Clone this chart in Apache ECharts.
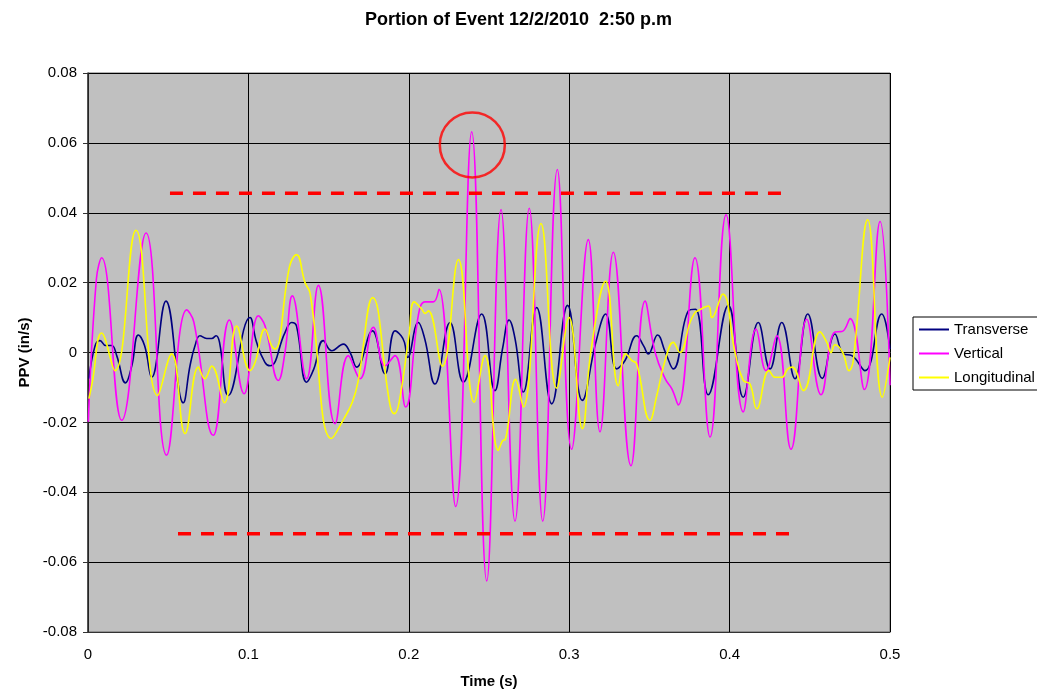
<!DOCTYPE html>
<html>
<head>
<meta charset="utf-8">
<script src="https://cdn.jsdelivr.net/npm/echarts@6/dist/echarts.min.js"></script>
<style>
html,body{margin:0;padding:0;background:#fff;overflow:hidden;}
#chart{width:1037px;height:694px;}
</style>
</head>
<body>
<div id="chart"></div>
<script>
// ---- data (time in s, PPV in in/s) ----
const titleText = "Portion of Event 12/2/2010  2:50 p.m";
const seriesNames = ["Transverse", "Vertical", "Longitudinal"];
const xTicks = [0, 0.1, 0.2, 0.3, 0.4, 0.5];
const yTicks = [-0.08, -0.06, -0.04, -0.02, 0, 0.02, 0.04, 0.06, 0.08];

const transverse = [[0.0006,-0.0075],[0.0044,0.0019],[0.0075,0.0034],[0.0110,0.0020],[0.0148,0.0020],[0.0179,-0.0009],[0.0234,-0.0087],[0.0273,-0.0038],[0.0314,0.0050],[0.0353,0.0019],[0.0397,-0.0071],[0.0486,0.0147],[0.0594,-0.0144],[0.0636,-0.0038],[0.0667,0.0019],[0.0698,0.0048],[0.0740,0.0040],[0.0771,0.0040],[0.0799,0.0048],[0.0820,0.0029],[0.0875,-0.0123],[0.1010,0.0100],[0.1051,0.0029],[0.1103,-0.0028],[0.1135,-0.0038],[0.1228,0.0057],[0.1270,0.0086],[0.1300,0.0076],[0.1363,-0.0085],[0.1408,-0.0047],[0.1467,0.0034],[0.1520,0.0005],[0.1592,0.0024],[0.1634,0.0000],[0.1675,-0.0042],[0.1773,0.0062],[0.1852,-0.0061],[0.1914,0.0062],[0.1952,0.0048],[0.1973,0.0029],[0.1993,-0.0014],[0.2059,0.0086],[0.2100,0.0038],[0.2163,-0.0090],[0.2257,0.0086],[0.2340,-0.0085],[0.2454,0.0110],[0.2537,-0.0109],[0.2586,0.0015],[0.2625,0.0093],[0.2663,0.0038],[0.2714,-0.0113],[0.2797,0.0129],[0.2891,-0.0147],[0.2990,0.0135],[0.3082,-0.0137],[0.3166,0.0029],[0.3227,0.0110],[0.3296,-0.0047],[0.3348,-0.0023],[0.3421,0.0048],[0.3464,0.0019],[0.3493,-0.0004],[0.3551,0.0050],[0.3600,0.0000],[0.3649,-0.0047],[0.3743,0.0119],[0.3787,0.0124],[0.3867,-0.0121],[0.3992,0.0135],[0.4085,-0.0128],[0.4179,0.0086],[0.4252,-0.0047],[0.4325,0.0086],[0.4408,-0.0075],[0.4487,0.0110],[0.4578,-0.0074],[0.4657,0.0053],[0.4710,-0.0004],[0.4762,-0.0009],[0.4844,-0.0052],[0.4948,0.0110],[0.5000,0.0010]];

const vertical = [[0.0002,-0.0198],[0.0052,0.0209],[0.0085,0.0271],[0.0210,-0.0194],[0.0362,0.0342],[0.0490,-0.0294],[0.0615,0.0122],[0.0660,0.0087],[0.0781,-0.0237],[0.0881,0.0093],[0.0973,-0.0118],[0.1062,0.0105],[0.1104,0.0076],[0.1187,-0.0080],[0.1228,0.0000],[0.1274,0.0162],[0.1363,-0.0075],[0.1436,0.0192],[0.1540,-0.0204],[0.1623,-0.0009],[0.1696,-0.0075],[0.1779,0.0072],[0.1852,-0.0038],[0.1914,-0.0009],[0.1980,-0.0156],[0.2059,0.0105],[0.2101,0.0145],[0.2153,0.0145],[0.2188,0.0181],[0.2292,-0.0441],[0.2392,0.0632],[0.2486,-0.0654],[0.2575,0.0409],[0.2662,-0.0483],[0.2751,0.0413],[0.2835,-0.0483],[0.2926,0.0524],[0.3015,-0.0277],[0.3119,0.0323],[0.3192,-0.0227],[0.3275,0.0287],[0.3385,-0.0324],[0.3473,0.0147],[0.3536,0.0000],[0.3598,-0.0075],[0.3640,-0.0104],[0.3680,-0.0150],[0.3784,0.0271],[0.3878,-0.0242],[0.3978,0.0394],[0.4085,-0.0170],[0.4165,0.0067],[0.4227,-0.0052],[0.4294,0.0048],[0.4383,-0.0277],[0.4481,0.0095],[0.4570,-0.0121],[0.4657,0.0059],[0.4700,0.0060],[0.4751,0.0097],[0.4840,-0.0106],[0.4938,0.0375],[0.5000,-0.0094]];

const longitudinal = [[0.0006,-0.0132],[0.0027,-0.0085],[0.0085,0.0056],[0.0168,-0.0052],[0.0299,0.0350],[0.0434,-0.0123],[0.0522,-0.0004],[0.0605,-0.0232],[0.0688,-0.0042],[0.0728,-0.0075],[0.0771,-0.0039],[0.0850,-0.0144],[0.0927,0.0076],[0.1010,-0.0052],[0.1042,-0.0028],[0.1103,0.0067],[0.1145,0.0019],[0.1166,0.0010],[0.1257,0.0247],[0.1300,0.0280],[0.1353,0.0200],[0.1384,0.0171],[0.1519,-0.0246],[0.1596,-0.0189],[0.1648,-0.0142],[0.1683,-0.0085],[0.1775,0.0157],[0.1883,-0.0151],[0.1910,-0.0175],[0.1940,-0.0142],[0.2001,0.0048],[0.2034,0.0145],[0.2081,0.0124],[0.2101,0.0112],[0.2122,0.0119],[0.2209,-0.0039],[0.2309,0.0266],[0.2408,-0.0142],[0.2475,-0.0009],[0.2558,-0.0280],[0.2589,-0.0251],[0.2600,-0.0250],[0.2666,-0.0077],[0.2714,-0.0156],[0.2824,0.0369],[0.2922,-0.0102],[0.2999,0.0100],[0.3082,-0.0218],[0.3137,0.0010],[0.3227,0.0204],[0.3306,-0.0095],[0.3352,-0.0004],[0.3391,-0.0023],[0.3421,-0.0033],[0.3504,-0.0194],[0.3546,-0.0123],[0.3598,-0.0023],[0.3649,0.0029],[0.3690,0.0000],[0.3753,0.0086],[0.3784,0.0114],[0.3800,0.0119],[0.3868,0.0133],[0.3889,0.0100],[0.3957,0.0167],[0.4034,0.0000],[0.4085,-0.0080],[0.4127,-0.0090],[0.4169,-0.0161],[0.4246,-0.0052],[0.4285,-0.0071],[0.4325,-0.0071],[0.4363,-0.0047],[0.4391,-0.0042],[0.4460,-0.0109],[0.4564,0.0059],[0.4606,0.0029],[0.4632,0.0000],[0.4657,0.0022],[0.4705,0.0000],[0.4744,-0.0052],[0.4771,-0.0023],[0.4861,0.0380],[0.4952,-0.0128],[0.5000,-0.0014]];

// annotation marks
const upperLimit = [[0.0511, 0.0456], [0.4345, 0.0456]];
const lowerLimit = [[0.0561, -0.0519], [0.4395, -0.0519]];
const peakCircle = [[0.2396, 0.0594]];

const FONT = '"Liberation Sans", Arial, sans-serif';
const chart = echarts.init(document.getElementById('chart'), null, {renderer: 'canvas'});

function waveSeries(name, data, color) {
  return {
    name: name, type: 'line', data: data, smooth: 0.45, showSymbol: false,
    lineStyle: {color: color, width: 1.6}, itemStyle: {color: color},
    emphasis: {disabled: true}
  };
}
function dashSeries(data) {
  return {
    type: 'line', data: data, showSymbol: false, silent: true, z: 5,
    lineStyle: {color: '#FF0000', width: 3.5, type: [13, 10], cap: 'butt'},
    emphasis: {disabled: true}
  };
}

chart.setOption({
  animation: false,
  backgroundColor: '#ffffff',
  title: {
    text: titleText, left: 'center', top: 6,
    textStyle: {fontFamily: FONT, fontSize: 18, fontWeight: 'bold', color: '#000'}
  },
  legend: {
    data: seriesNames, orient: 'vertical', left: 913, top: 317,
    padding: [4, 12, 4, 6], itemGap: 7, itemWidth: 30, itemHeight: 2,
    icon: 'rect', borderColor: '#000', borderWidth: 1, backgroundColor: '#fff',
    textStyle: {fontFamily: FONT, fontSize: 15, color: '#000', lineHeight: 17}
  },
  grid: {
    left: 88, right: 147, top: 73, bottom: 59,
    show: true, backgroundColor: '#C0C0C0', borderColor: '#666', borderWidth: 1
  },
  xAxis: {
    type: 'value', min: 0, max: 0.5, interval: 0.1,
    name: 'Time (s)', nameLocation: 'middle', nameGap: 42,
    nameTextStyle: {fontFamily: FONT, fontSize: 15, fontWeight: 'bold', color: '#000'},
    axisLine: {show: true, onZero: false, lineStyle: {color: '#333', width: 1}},
    axisTick: {show: false},
    axisLabel: {fontFamily: FONT, fontSize: 15, color: '#000', margin: 15},
    splitLine: {show: true, lineStyle: {color: '#000', width: 1}}
  },
  yAxis: {
    type: 'value', min: -0.08, max: 0.08, interval: 0.02,
    name: 'PPV (in/s)', nameLocation: 'middle', nameGap: 53, nameRotate: 90,
    nameTextStyle: {fontFamily: FONT, fontSize: 15, fontWeight: 'bold', color: '#000'},
    axisLine: {show: true, lineStyle: {color: '#333', width: 1.5}},
    axisTick: {show: true, inside: false, length: 5, lineStyle: {color: '#333'}},
    axisLabel: {fontFamily: FONT, fontSize: 15, color: '#000', margin: 11,
      formatter: function (v) { return String(+v.toFixed(2)); }},
    splitLine: {show: true, lineStyle: {color: '#000', width: 1}}
  },
  series: [
    waveSeries(seriesNames[0], transverse, '#000080'),
    waveSeries(seriesNames[1], vertical, '#FF00FF'),
    waveSeries(seriesNames[2], longitudinal, '#FFFF00'),
    dashSeries(upperLimit),
    dashSeries(lowerLimit),
    {
      type: 'scatter', data: peakCircle, symbol: 'circle', symbolSize: 65, silent: true, z: 6,
      itemStyle: {color: 'rgba(0,0,0,0)', borderColor: '#FF0000', borderWidth: 2.5},
      emphasis: {disabled: true}
    }
  ]
});
</script>
</body>
</html>
